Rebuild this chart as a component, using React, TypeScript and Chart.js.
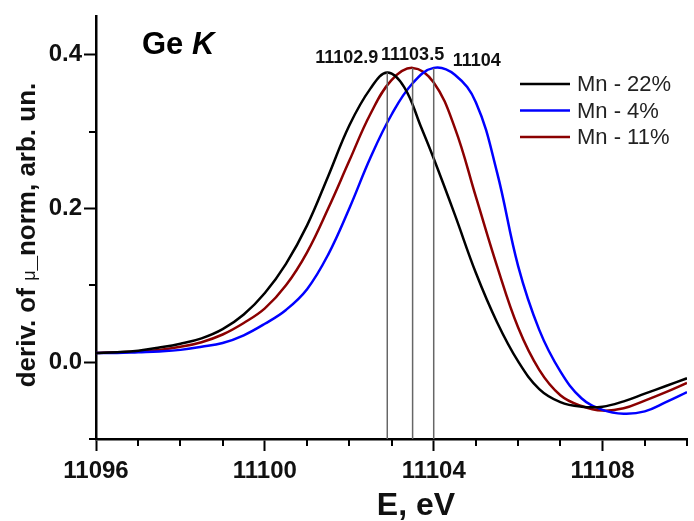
import React, { useEffect, useRef } from 'react';
import { Chart, registerables } from 'chart.js';

Chart.register(...registerables);

const FONT = '"Liberation Sans", Arial, Helvetica, sans-serif';

// ---- data ----
const seriesLabels = ['Mn - 22%', 'Mn - 4%', 'Mn - 11%'];
const seriesColors = ['#000000', '#0000ff', '#8b0000'];

const energyMn22 = [11096, 11096.5, 11097, 11097.5, 11098, 11098.5, 11099, 11099.5, 11100, 11100.5, 11101, 11101.5, 11102, 11102.5, 11102.9, 11103.3, 11103.7, 11104, 11104.5, 11105, 11105.5, 11106, 11106.5, 11107, 11107.5, 11108, 11108.5, 11109, 11109.5, 11110];
const derivMn22 = [0.012, 0.013, 0.015, 0.019, 0.024, 0.031, 0.043, 0.062, 0.090, 0.128, 0.178, 0.242, 0.308, 0.356, 0.377, 0.358, 0.306, 0.265, 0.192, 0.116, 0.052, 0.001, -0.035, -0.052, -0.058, -0.058, -0.051, -0.041, -0.031, -0.021];

const energyMn4 = [11096, 11096.5, 11097, 11097.5, 11098, 11098.5, 11099, 11099.5, 11100, 11100.5, 11101, 11101.5, 11102, 11102.5, 11103, 11103.5, 11104, 11104.5, 11105, 11105.5, 11106, 11106.5, 11107, 11107.5, 11108, 11108.5, 11109, 11109.5, 11110];
const derivMn4 = [0.012, 0.012, 0.013, 0.014, 0.016, 0.020, 0.025, 0.035, 0.050, 0.068, 0.095, 0.140, 0.200, 0.266, 0.322, 0.363, 0.383, 0.374, 0.338, 0.247, 0.125, 0.042, -0.012, -0.047, -0.062, -0.067, -0.064, -0.052, -0.039];

const energyMn11 = [11096, 11096.5, 11097, 11097.5, 11098, 11098.5, 11099, 11099.5, 11100, 11100.5, 11101, 11101.5, 11102, 11102.5, 11103, 11103.5, 11104, 11104.5, 11105, 11105.5, 11106, 11106.5, 11107, 11107.5, 11108, 11108.5, 11109, 11109.5, 11110];
const derivMn11 = [0.012, 0.013, 0.014, 0.016, 0.020, 0.026, 0.036, 0.051, 0.070, 0.100, 0.143, 0.200, 0.262, 0.323, 0.367, 0.383, 0.364, 0.305, 0.215, 0.125, 0.045, -0.010, -0.043, -0.057, -0.063, -0.060, -0.050, -0.039, -0.027];

const peakEnergies = [11102.9, 11103.5, 11104];
const peakValues = [0.377, 0.383, 0.383];
const peakLabels = ['11102.9', '11103.5', '11104'];

const xMajorTicks = [11096, 11100, 11104, 11108];
const xMinorTicks = [11097, 11098, 11099, 11101, 11102, 11103, 11105, 11106, 11107, 11109, 11110];
const yMajorTicks = [0.0, 0.2, 0.4];
const yMinorTicks = [-0.1, 0.1, 0.3];

const X_MIN = 11096;
const X_MAX = 11110;
const Y_MIN = -0.1;
const Y_MAX = 0.45;

const titleMain = 'Ge ';
const titleItalic = 'K';
const xTitle = 'E, eV';
const yTitleParts = ['deriv. of ', 'μ', '_norm, arb. un.'];

// label placement relative to each peak (style)
const peakLabelStyle = [
  { align: 'right' as CanvasTextAlign, dx: -9, dy: -14 },
  { align: 'center' as CanvasTextAlign, dx: 0, dy: -13 },
  { align: 'left' as CanvasTextAlign, dx: 19, dy: -7 },
];

const toPoints = (xs: number[], ys: number[]) => xs.map((x, i) => ({ x, y: ys[i] }));

const overlayPlugin = {
  id: 'overlay',
  afterDraw(chart: any) {
    const { ctx, scales } = chart;
    const xs = scales.x;
    const ys = scales.y;
    const area = chart.chartArea;
    ctx.save();

    // minor ticks
    ctx.strokeStyle = '#000';
    ctx.lineWidth = 2;
    xMinorTicks.forEach((v) => {
      const px = Math.round(xs.getPixelForValue(v));
      ctx.beginPath();
      ctx.moveTo(px, area.bottom);
      ctx.lineTo(px, area.bottom + 7);
      ctx.stroke();
    });
    yMinorTicks.forEach((v) => {
      const py = Math.round(ys.getPixelForValue(v));
      ctx.beginPath();
      ctx.moveTo(area.left, py);
      ctx.lineTo(area.left - 7, py);
      ctx.stroke();
    });

    // title "Ge K"
    ctx.fillStyle = '#000';
    ctx.textBaseline = 'alphabetic';
    ctx.textAlign = 'left';
    ctx.font = `bold 31px ${FONT}`;
    const tx = 142;
    const ty = 54;
    ctx.fillText(titleMain, tx, ty);
    const w = ctx.measureText(titleMain).width;
    ctx.font = `italic bold 31px ${FONT}`;
    ctx.fillText(titleItalic, tx + w, ty);

    // peak labels
    ctx.font = `bold 18px ${FONT}`;
    ctx.textBaseline = 'middle';
    peakLabels.forEach((lab, i) => {
      const st = peakLabelStyle[i];
      const px = xs.getPixelForValue(peakEnergies[i]);
      const py = ys.getPixelForValue(peakValues[i]);
      ctx.textAlign = st.align;
      ctx.fillStyle = '#111';
      ctx.fillText(lab, px + st.dx, py + st.dy);
    });

    // legend
    const lx0 = 520;
    const lx1 = 570;
    const ly0 = 84;
    const lstep = 26.5;
    ctx.font = `22px ${FONT}`;
    ctx.textAlign = 'left';
    ctx.textBaseline = 'middle';
    seriesLabels.forEach((lab, i) => {
      const y = ly0 + i * lstep;
      ctx.strokeStyle = seriesColors[i];
      ctx.lineWidth = 2.5;
      ctx.beginPath();
      ctx.moveTo(lx0, y);
      ctx.lineTo(lx1, y);
      ctx.stroke();
      ctx.fillStyle = '#222';
      ctx.fillText(lab, lx1 + 7, y + 1);
    });

    // x axis title
    ctx.fillStyle = '#111';
    ctx.font = `bold 32px ${FONT}`;
    ctx.textAlign = 'center';
    ctx.textBaseline = 'alphabetic';
    ctx.fillText(xTitle, 416, 515);

    // y axis title (rotated)
    const fonts = [`bold 26px ${FONT}`, `18px ${FONT}`, `bold 26px ${FONT}`];
    const widths = yTitleParts.map((t, i) => {
      ctx.font = fonts[i];
      return ctx.measureText(t).width;
    });
    const total = widths.reduce((a, b) => a + b, 0);
    ctx.translate(35, 235);
    ctx.rotate(-Math.PI / 2);
    ctx.textAlign = 'left';
    let cx = -total / 2;
    yTitleParts.forEach((t, i) => {
      ctx.font = fonts[i];
      ctx.fillText(t, cx, 0);
      cx += widths[i];
    });
    ctx.restore();
  },
};

export default function App() {
  const canvasRef = useRef<HTMLCanvasElement | null>(null);

  useEffect(() => {
    document.body.style.margin = '0';
    document.body.style.overflow = 'hidden';
    const canvas = canvasRef.current;
    if (!canvas) return;

    const curveSets = [
      toPoints(energyMn22, derivMn22),
      toPoints(energyMn4, derivMn4),
      toPoints(energyMn11, derivMn11),
    ];

    const datasets: any[] = curveSets.map((pts, i) => ({
      label: seriesLabels[i],
      data: pts,
      borderColor: seriesColors[i],
      borderWidth: 2.5,
      pointRadius: 0,
      fill: false,
      tension: 0.4,
      order: 1,
    }));

    peakEnergies.forEach((e, i) => {
      datasets.push({
        label: 'peak ' + peakLabels[i],
        data: [{ x: e, y: peakValues[i] }, { x: e, y: Y_MIN }],
        borderColor: '#666666',
        borderWidth: 1.5,
        pointRadius: 0,
        fill: false,
        tension: 0,
        order: 0,
      });
    });

    const tickFont = { family: FONT, size: 24, weight: 'bold' as const };

    const chart = new Chart(canvas, {
      type: 'line',
      data: { datasets },
      options: {
        responsive: false,
        animation: false,
        devicePixelRatio: 1,
        layout: { padding: { top: 13, right: 7, left: 0, bottom: 0 } },
        plugins: { legend: { display: false }, tooltip: { enabled: false }, title: { display: false } },
        scales: {
          x: {
            type: 'linear',
            min: X_MIN,
            max: X_MAX,
            afterBuildTicks: (s: any) => {
              s.ticks = xMajorTicks.map((v) => ({ value: v }));
            },
            afterFit: (s: any) => {
              s.height = 82;
            },
            border: { display: true, color: '#000', width: 2.5 },
            grid: { display: true, drawOnChartArea: false, drawTicks: true, tickLength: 12, tickWidth: 2, tickColor: '#000' },
            ticks: {
              autoSkip: false,
              maxRotation: 0,
              padding: 6,
              color: '#111',
              font: tickFont,
              callback: (v: any) => String(v),
            },
          },
          y: {
            type: 'linear',
            min: Y_MIN,
            max: Y_MAX,
            afterBuildTicks: (s: any) => {
              s.ticks = yMajorTicks.map((v) => ({ value: v }));
            },
            afterFit: (s: any) => {
              s.width = 96;
            },
            border: { display: true, color: '#000', width: 2.5 },
            grid: { display: true, drawOnChartArea: false, drawTicks: true, tickLength: 12, tickWidth: 2, tickColor: '#000' },
            ticks: {
              autoSkip: false,
              padding: 2,
              color: '#111',
              font: tickFont,
              callback: (v: any) => Number(v).toFixed(1),
            },
          },
        },
      },
      plugins: [overlayPlugin],
    });

    return () => {
      chart.destroy();
    };
  }, []);

  return (
    <div style={{ width: 694, height: 521, background: '#fff' }}>
      <canvas ref={canvasRef} width={694} height={521} style={{ display: 'block' }} />
    </div>
  );
}
